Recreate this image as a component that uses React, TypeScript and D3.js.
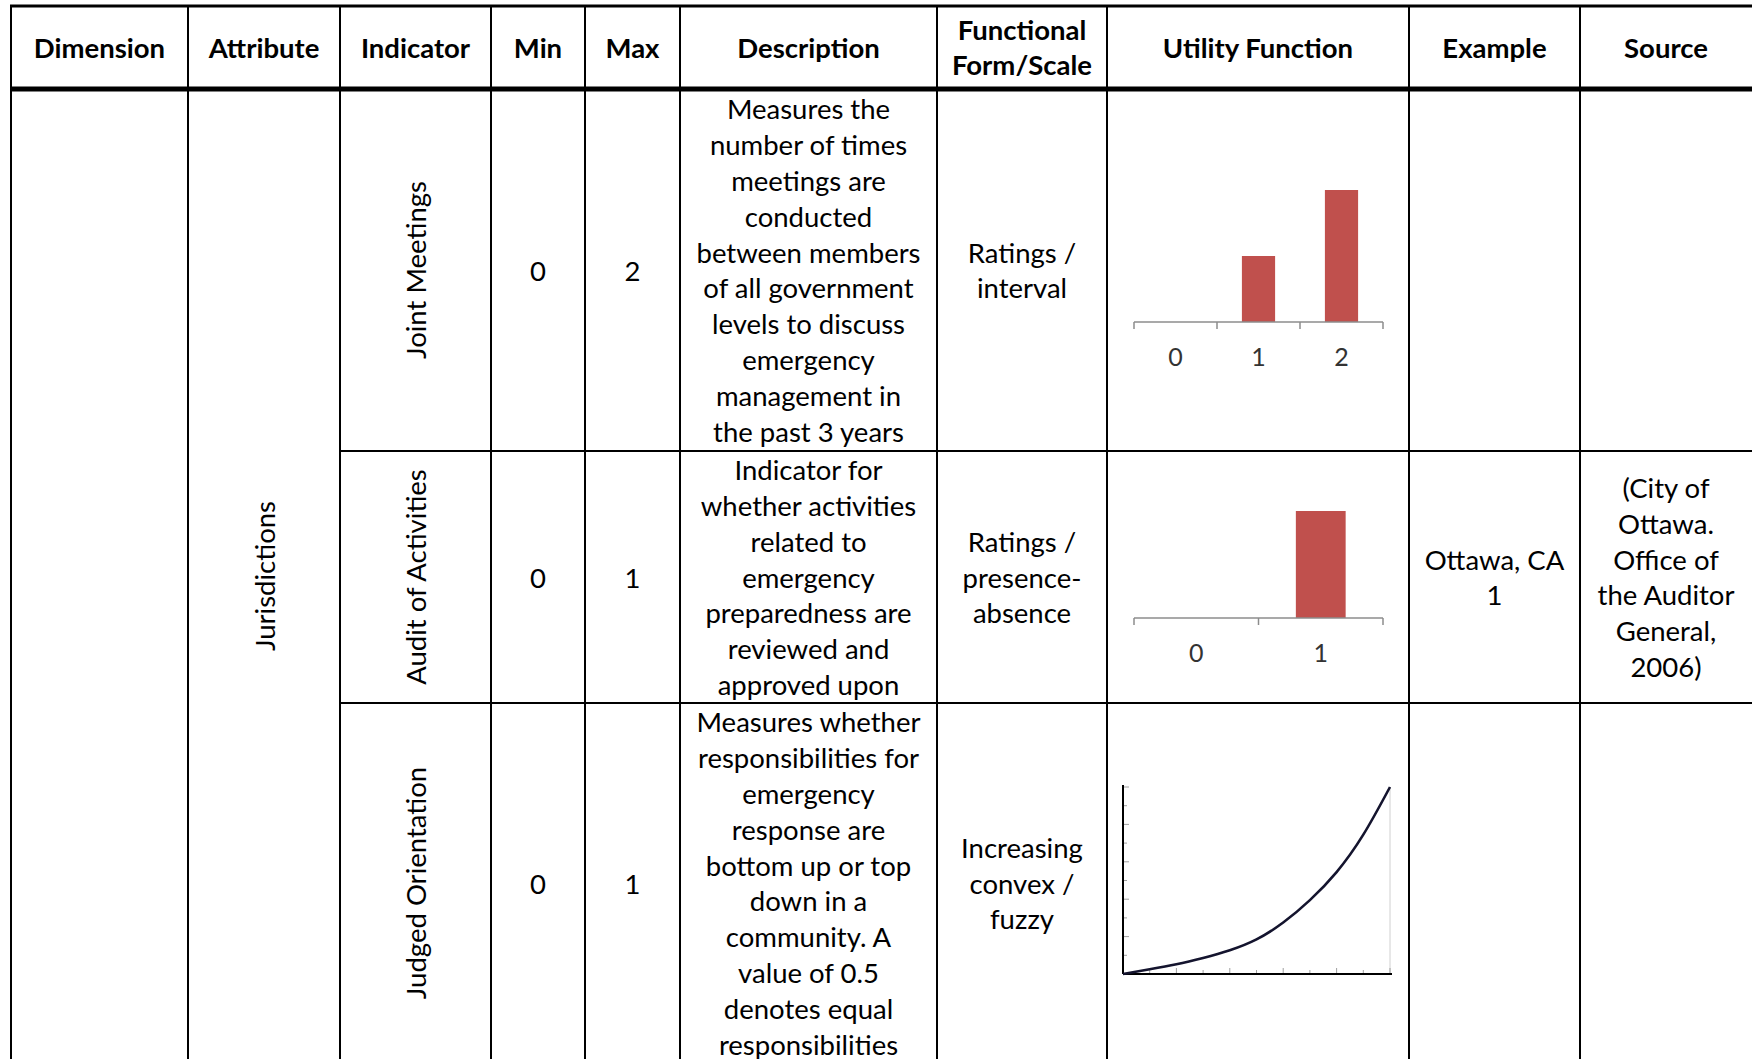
import React from "react";
import * as d3 from "d3";

// ---------- data ----------
const headers = ["Dimension", "Attribute", "Indicator", "Min", "Max", "Description", "Functional\nForm/Scale", "Utility Function", "Example", "Source"];
const attributes = ["Jurisdictions"];
const indicators = ["Joint Meetings", "Audit of Activities", "Judged Orientation"];
const mins = ["0", "0", "0"];
const maxs = ["2", "1", "1"];
const descriptions = [
  ["Measures the", "number of times", "meetings are", "conducted", "between members", "of all government", "levels to discuss", "emergency", "management in", "the past 3 years"],
  ["Indicator for", "whether activities", "related to", "emergency", "preparedness are", "reviewed and", "approved upon"],
  ["Measures whether", "responsibilities for", "emergency", "response are", "bottom up or top", "down in a", "community. A", "value of 0.5", "denotes equal", "responsibilities"],
];
const forms = [
  ["Ratings /", "interval"],
  ["Ratings /", "presence-", "absence"],
  ["Increasing", "convex /", "fuzzy"],
];
const examples = [[], ["Ottawa, CA", "1"], []];
const sources = [[], ["(City of", "Ottawa.", "Office of", "the Auditor", "General,", "2006)"], []];

const meetingCats = ["0", "1", "2"];
const meetingUtil = [0, 0.5, 1];
const auditCats = ["0", "1"];
const auditUtil = [0, 1];
const orientX = [0, 0.1, 0.2, 0.3, 0.4, 0.5, 0.6, 0.7, 0.8, 0.9, 1.0];
const orientY = [0, 0.025, 0.052, 0.086, 0.127, 0.185, 0.275, 0.395, 0.545, 0.745, 1.0];
const orientTicks = [0, 0.1, 0.2, 0.3, 0.4, 0.5, 0.6, 0.7, 0.8, 0.9, 1.0];

// ---------- layout ----------
const W = 1752;
const H = 1059;
const colX = [11, 188, 340, 491, 585, 680, 937, 1107, 1409, 1580, 1752];
const topY = 6;
const headY = 89;
const rowY = [89, 451, 703, 1063];
const FONT = "Lato, 'Open Sans', sans-serif";
const FS = 27.5;
const LH = 35.9;
const BAR = "#C0504D";

function cx(i: number) {
  return (colX[i] + colX[i + 1]) / 2;
}

function Lines({ lines, x, yc, bold = false, fs = FS }: { lines: string[]; x: number; yc: number; bold?: boolean; fs?: number }) {
  const n = lines.length;
  return (
    <text x={x} textAnchor="middle" fontFamily={FONT} fontSize={fs} fontWeight={bold ? 700 : 400} fill="#000">
      {lines.map((l, i) => (
        <tspan key={i} x={x} y={yc + (i - (n - 1) / 2) * LH} dominantBaseline="central">
          {l}
        </tspan>
      ))}
    </text>
  );
}

function BarChart({ cats, vals, top, base }: { cats: string[]; vals: number[]; top: number; base: number }) {
  const x = d3.scaleBand<string>().domain(cats).range([1134, 1383]).paddingInner(0.6).paddingOuter(0.3);
  const y = d3.scaleLinear().domain([0, 1]).range([base, top]);
  const step = x.step();
  const r0 = x.range()[0];
  const tickXs = d3.range(cats.length + 1).map((i) => r0 + i * step);
  return (
    <g>
      {cats.map((c, i) => (
        <rect key={c} x={x(c)!} y={y(vals[i])} width={x.bandwidth()} height={y(0) - y(vals[i])} fill={BAR} />
      ))}
      <line x1={r0} x2={r0 + step * cats.length} y1={y(0)} y2={y(0)} stroke="#8c8c8c" strokeWidth={1.5} />
      {tickXs.map((t, i) => (
        <line key={i} x1={t} x2={t} y1={y(0)} y2={y(0) + 7} stroke="#8c8c8c" strokeWidth={1.5} />
      ))}
      {cats.map((c) => (
        <text key={c} x={x(c)! + x.bandwidth() / 2} y={y(0) + 34} textAnchor="middle" dominantBaseline="central" fontFamily={FONT} fontSize={25} fill="#333">
          {c}
        </text>
      ))}
    </g>
  );
}

function CurveChart() {
  const x = d3.scaleLinear().domain([0, 1]).range([1123, 1390]);
  const y = d3.scaleLinear().domain([0, 1]).range([974, 787]);
  const pts = orientX.map((v, i) => [v, orientY[i]] as [number, number]);
  const line = d3
    .line<[number, number]>()
    .x((d) => x(d[0]))
    .y((d) => y(d[1]))
    .curve(d3.curveNatural);
  return (
    <g>
      <line x1={x(1)} x2={x(1)} y1={y(1)} y2={y(0)} stroke="#d0d0d0" strokeWidth={1} />
      {orientTicks.slice(1).map((t, i) => (
        <line key={"xt" + i} x1={x(t)} x2={x(t)} y1={y(0)} y2={y(0) - ((i + 1) % 2 === 0 ? 6 : 4)} stroke="#a0a0a0" strokeWidth={1} />
      ))}
      {orientTicks.slice(1).map((t, i) => (
        <line key={"yt" + i} x1={x(0)} x2={x(0) + ((i + 1) % 2 === 0 ? 6 : 4)} y1={y(t)} y2={y(t)} stroke="#a0a0a0" strokeWidth={1} />
      ))}
      <line x1={x(0)} x2={x(0)} y1={y(1) - 2} y2={y(0)} stroke="#000" strokeWidth={2} />
      <line x1={x(0)} x2={x(1) + 2} y1={y(0)} y2={y(0)} stroke="#000" strokeWidth={2} />
      <path d={line(pts)!} fill="none" stroke="#14142e" strokeWidth={2.6} />
    </g>
  );
}

export default function App() {
  const rowC = [0, 1, 2].map((i) => (rowY[i] + rowY[i + 1]) / 2);
  return (
    <svg width={W} height={H} style={{ position: "absolute", left: 0, top: 0, background: "#fff" }}>
      <rect x={0} y={0} width={W} height={H} fill="#fff" />
      {/* headers */}
      {headers.map((h, i) => (
        <Lines key={h} lines={h.split("\n")} x={cx(i)} yc={47} bold />
      ))}
      {/* attribute */}
      <text
        transform={`translate(${cx(1)},${(rowY[0] + rowY[3]) / 2}) rotate(-90)`}
        textAnchor="middle"
        dominantBaseline="central"
        fontFamily={FONT}
        fontSize={FS}
      >
        {attributes[0]}
      </text>
      {indicators.map((ind, r) => (
        <g key={ind}>
          <text
            transform={`translate(${cx(2)},${rowC[r]}) rotate(-90)`}
            textAnchor="middle"
            dominantBaseline="central"
            fontFamily={FONT}
            fontSize={FS}
          >
            {ind}
          </text>
          <Lines lines={[mins[r]]} x={cx(3)} yc={rowC[r]} />
          <Lines lines={[maxs[r]]} x={cx(4)} yc={rowC[r]} />
          <Lines lines={descriptions[r]} x={cx(5)} yc={rowC[r]} />
          <Lines lines={forms[r]} x={cx(6)} yc={rowC[r]} />
          <Lines lines={examples[r]} x={cx(8)} yc={rowC[r]} />
          <Lines lines={sources[r]} x={cx(9)} yc={rowC[r]} />
        </g>
      ))}
      <BarChart cats={meetingCats} vals={meetingUtil} top={190} base={322} />
      <BarChart cats={auditCats} vals={auditUtil} top={511} base={618} />
      <CurveChart />
      {/* grid lines */}
      <line x1={colX[0] - 1} x2={W} y1={topY} y2={topY} stroke="#000" strokeWidth={3} />
      <line x1={colX[0] - 1} x2={W} y1={headY} y2={headY} stroke="#000" strokeWidth={5} />
      {[rowY[1], rowY[2]].map((y, i) => (
        <line key={"h" + i} x1={colX[2]} x2={W} y1={y} y2={y} stroke="#000" strokeWidth={2} />
      ))}
      {colX.slice(0, 10).map((x, i) => (
        <line key={"v" + i} x1={x} x2={x} y1={topY} y2={H} stroke="#000" strokeWidth={2} />
      ))}
    </svg>
  );
}
